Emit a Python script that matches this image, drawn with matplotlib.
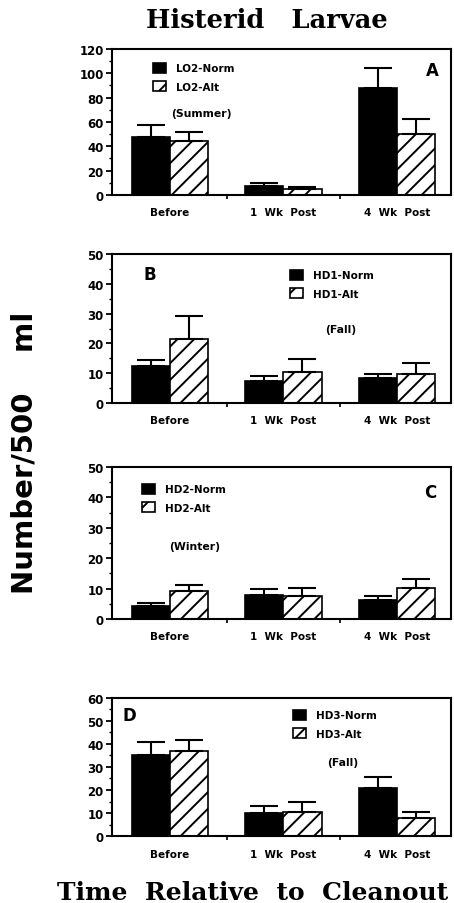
import numpy as np
import matplotlib
matplotlib.use("Agg")
import matplotlib.pyplot as plt
from matplotlib.ticker import MultipleLocator, FixedLocator

plt.rcParams['font.family'] = ['DejaVu Sans']
plt.rcParams['hatch.linewidth'] = 1.4

# data
groups = ["Before", "1  Wk  Post", "4  Wk  Post"]

a_norm = [47.4, 7.4, 88.0]
a_norm_err = [10.3, 2.3, 16.6]
a_alt = [44.1, 5.0, 50.2]
a_alt_err = [7.5, 1.9, 12.4]

b_norm = [12.3, 7.3, 8.4]
b_norm_err = [2.2, 1.6, 1.3]
b_alt = [21.5, 10.4, 9.8]
b_alt_err = [7.6, 4.3, 3.5]

c_norm = [4.4, 8.0, 6.4]
c_norm_err = [0.9, 1.9, 1.1]
c_alt = [9.1, 7.4, 10.1]
c_alt_err = [2.0, 2.9, 3.1]

d_norm = [35.2, 10.2, 20.7]
d_norm_err = [5.6, 2.8, 4.8]
d_alt = [36.8, 10.5, 7.9]
d_alt_err = [4.8, 4.5, 2.7]

panels = [
    # values, labels, ymax, ystep, letter, season, layout bits
    dict(norm=a_norm, ne=a_norm_err, alt=a_alt, ae=a_alt_err, names=("LO2-Norm", "LO2-Alt"),
         ymax=120, step=20, letter="A", season="(Summer)",
         rect=[0.2467, 0.7832, 0.7467, 0.1615], leg=(0.121, 0.904), let=(0.944, 0.856), sea=(0.265, 0.562)),
    dict(norm=b_norm, ne=b_norm_err, alt=b_alt, ae=b_alt_err, names=("HD1-Norm", "HD1-Alt"),
         ymax=50, step=10, letter="B", season="(Fall)",
         rect=[0.2467, 0.5531, 0.7467, 0.1648], leg=(0.525, 0.893), let=(0.112, 0.866), sea=(0.676, 0.497)),
    dict(norm=c_norm, ne=c_norm_err, alt=c_alt, ae=c_alt_err, names=("HD2-Norm", "HD2-Alt"),
         ymax=50, step=10, letter="C", season="(Winter)",
         rect=[0.2467, 0.3142, 0.7467, 0.1681], leg=(0.088, 0.888), let=(0.938, 0.836), sea=(0.245, 0.48)),
    dict(norm=d_norm, ne=d_norm_err, alt=d_alt, ae=d_alt_err, names=("HD3-Norm", "HD3-Alt"),
         ymax=60, step=10, letter="D", season="(Fall)",
         rect=[0.2467, 0.0741, 0.7467, 0.1527], leg=(0.534, 0.913), let=(0.05, 0.877), sea=(0.681, 0.536)),
]

fig = plt.figure(figsize=(4.54, 9.04), dpi=100)
x = np.arange(len(groups))
w = 0.335

for p in panels:
    ax = fig.add_axes(p["rect"])
    h1 = ax.bar(x - w/2, p["norm"], w, color="black", edgecolor="black", lw=1.2,
                yerr=[np.zeros(3), p["ne"]], error_kw=dict(ecolor="black", elinewidth=1.5, capsize=10, capthick=1.5),
                label=p["names"][0])
    h2 = ax.bar(x + w/2, p["alt"], w, color="white", edgecolor="black", lw=1.2, hatch="//",
                yerr=[np.zeros(3), p["ae"]], error_kw=dict(ecolor="black", elinewidth=1.5, capsize=10, capthick=1.5),
                label=p["names"][1])
    ax.set_xlim(-0.511, 2.476)
    ax.set_ylim(0, p["ymax"])
    ax.yaxis.set_major_locator(MultipleLocator(p["step"]))
    ax.yaxis.set_minor_locator(MultipleLocator(p["step"] / 2))
    ax.set_xticks(x)
    ax.set_xticklabels(groups, fontsize=7.5, fontweight="bold")
    ax.xaxis.set_minor_locator(FixedLocator([0.5, 1.5]))
    ax.tick_params(axis="x", which="major", length=0, pad=9)
    ax.tick_params(axis="x", which="minor", length=3, width=1.2)
    ax.tick_params(axis="y", which="major", length=4, width=1.3, labelsize=8.5, pad=2)
    ax.tick_params(axis="y", which="minor", length=2.5, width=1.0)
    for lab in ax.get_yticklabels():
        lab.set_fontweight("bold")
    for s in ax.spines.values():
        s.set_linewidth(1.5)

    ax.legend(handles=[h1, h2], loc="upper left", bbox_to_anchor=p["leg"], frameon=False,
              borderpad=0, borderaxespad=0, handlelength=1.25, handleheight=1.05,
              handletextpad=1.0, labelspacing=0.75, prop=dict(size=7.5, weight="bold"))
    ax.text(*p["let"], p["letter"], transform=ax.transAxes, ha="center", va="center",
            fontsize=12, fontweight="bold")
    ax.text(*p["sea"], p["season"], transform=ax.transAxes, ha="center", va="center",
            fontsize=7.8, fontweight="bold")

fig.text(0.588, 0.977, "Histerid   Larvae", ha="center", va="center",
         family="DejaVu Serif", fontweight="bold", fontsize=18.5)
fig.text(0.125, 0.004, "Time  Relative  to  Cleanout", ha="left", va="baseline",
         family="DejaVu Serif", fontweight="bold", fontsize=18)
fig.text(0.055, 0.499, "Number/500    ml", rotation=90, ha="center", va="center",
         fontweight="bold", fontsize=21)

fig.savefig("out.png", dpi=100)
